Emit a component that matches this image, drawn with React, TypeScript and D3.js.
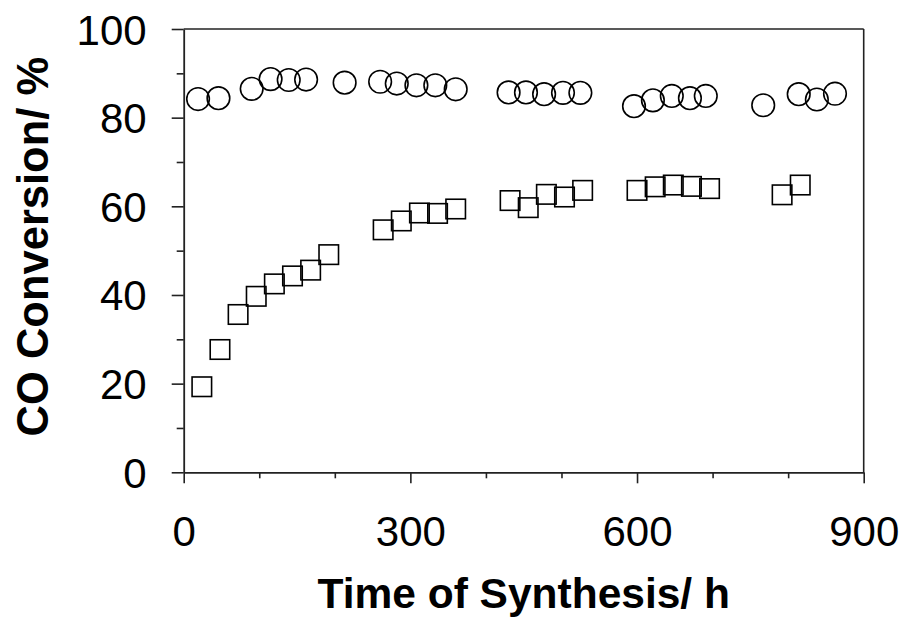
import React, { useEffect, useRef } from "react";
import * as d3 from "d3";

const circleTime = [19, 46, 90, 115, 139, 162, 213, 260, 282, 308, 333, 360, 430, 453, 477, 502, 525, 596, 621, 646, 670, 691, 767, 814, 838, 862];
const circleConv = [84.2, 84.4, 86.5, 88.7, 88.5, 88.6, 87.9, 88.1, 87.7, 87.3, 87.3, 86.4, 85.7, 85.7, 85.3, 85.6, 85.6, 82.6, 83.9, 84.9, 84.4, 84.9, 82.8, 85.3, 84.1, 85.4];

const squareTime = [24, 48, 72, 96, 120, 144, 168, 192, 264, 288, 312, 336, 360, 432, 456, 480, 504, 528, 600, 624, 648, 672, 696, 792, 816];
const squareConv = [19.3, 27.7, 35.6, 39.7, 42.5, 44.3, 45.6, 49.1, 54.7, 56.7, 58.5, 58.4, 59.4, 61.3, 59.7, 62.7, 62.1, 63.6, 63.6, 64.4, 64.8, 64.5, 64.0, 62.6, 64.8];

const xMajorTicks = [0, 300, 600, 900];
const xMinorTicks = [100, 200, 400, 500, 700, 800];
const yMajorTicks = [0, 20, 40, 60, 80, 100];
const yMinorTicks = [10, 30, 50, 70, 90];

const xTitle = "Time of Synthesis/ h";
const yTitle = "CO Conversion/ %";

const W = 904;
const H = 618;
const left = 183.7;
const right = 863.7;
const top = 29;
const bottom = 472.3;
const FONT = "'Liberation Sans', Arial, sans-serif";

export default function App() {
  const ref = useRef<SVGSVGElement | null>(null);

  useEffect(() => {
    const svg = d3.select(ref.current);
    svg.selectAll("*").remove();
    const x = d3.scaleLinear().domain([0, 900]).range([left, right]);
    const y = d3.scaleLinear().domain([0, 100]).range([bottom, top]);

    // frame top and right
    svg.append("line").attr("x1", left).attr("x2", right).attr("y1", top).attr("y2", top)
      .attr("stroke", "#222").attr("stroke-width", 1.6);
    svg.append("line").attr("x1", right).attr("x2", right).attr("y1", top).attr("y2", bottom)
      .attr("stroke", "#222").attr("stroke-width", 1.6);

    // x minor ticks
    const gxm = svg.append("g").attr("transform", `translate(0,${bottom})`)
      .call(d3.axisBottom(x).tickValues(xMinorTicks).tickSize(6).tickSizeOuter(0).tickFormat(() => ""));
    gxm.select(".domain").remove();
    // x major
    const gx = svg.append("g").attr("transform", `translate(0,${bottom})`)
      .call(d3.axisBottom(x).tickValues(xMajorTicks).tickSize(11).tickSizeOuter(0).tickFormat(d3.format("d")));
    gx.select(".domain").attr("stroke", "#222").attr("stroke-width", 1.8);
    gx.selectAll(".tick text").attr("font-family", FONT).attr("font-size", 42).attr("fill", "#000")
      .attr("y", 0).attr("dy", 0).attr("transform", `translate(0,${546 - bottom})`);

    // y minor
    const gym = svg.append("g").attr("transform", `translate(${left},0)`)
      .call(d3.axisLeft(y).tickValues(yMinorTicks).tickSize(7).tickSizeOuter(0).tickFormat(() => ""));
    gym.select(".domain").remove();
    // y major
    const gy = svg.append("g").attr("transform", `translate(${left},0)`)
      .call(d3.axisLeft(y).tickValues(yMajorTicks).tickSize(12).tickSizeOuter(0).tickFormat(d3.format("d")));
    gy.select(".domain").attr("stroke", "#222").attr("stroke-width", 1.8);
    gy.selectAll(".tick text").attr("font-family", FONT).attr("font-size", 42).attr("fill", "#000")
      .attr("x", -37).attr("dy", 15).attr("text-anchor", "end");

    svg.selectAll(".tick line").attr("stroke", "#222").attr("stroke-width", 1.6);

    // data
    const circ = d3.range(circleTime.length).map(i => ({ t: circleTime[i], v: circleConv[i] }));
    const sq = d3.range(squareTime.length).map(i => ({ t: squareTime[i], v: squareConv[i] }));

    svg.append("g").selectAll("circle").data(circ).join("circle")
      .attr("cx", d => x(d.t)).attr("cy", d => y(d.v)).attr("r", 11.3)
      .attr("fill", "none").attr("stroke", "#000").attr("stroke-width", 1.6);

    const s = 19.5;
    svg.append("g").selectAll("rect").data(sq).join("rect")
      .attr("x", d => x(d.t) - s / 2).attr("y", d => y(d.v) - s / 2)
      .attr("width", s).attr("height", s)
      .attr("fill", "none").attr("stroke", "#000").attr("stroke-width", 1.6);

    // titles
    svg.append("text").attr("x", (left + right) / 2).attr("y", 607.5)
      .attr("text-anchor", "middle").attr("font-family", FONT).attr("font-weight", "bold")
      .attr("font-size", 42.5).attr("fill", "#000").text(xTitle);
    svg.append("text").attr("transform", `translate(48.3,${(top + bottom) / 2 - 4}) rotate(-90)`)
      .attr("text-anchor", "middle").attr("font-family", FONT).attr("font-weight", "bold")
      .attr("font-size", 43.5).attr("fill", "#000").text(yTitle);
  }, []);

  return (
    <svg ref={ref} width={W} height={H} style={{ position: "absolute", left: 0, top: 0, background: "#fff" }} />
  );
}
